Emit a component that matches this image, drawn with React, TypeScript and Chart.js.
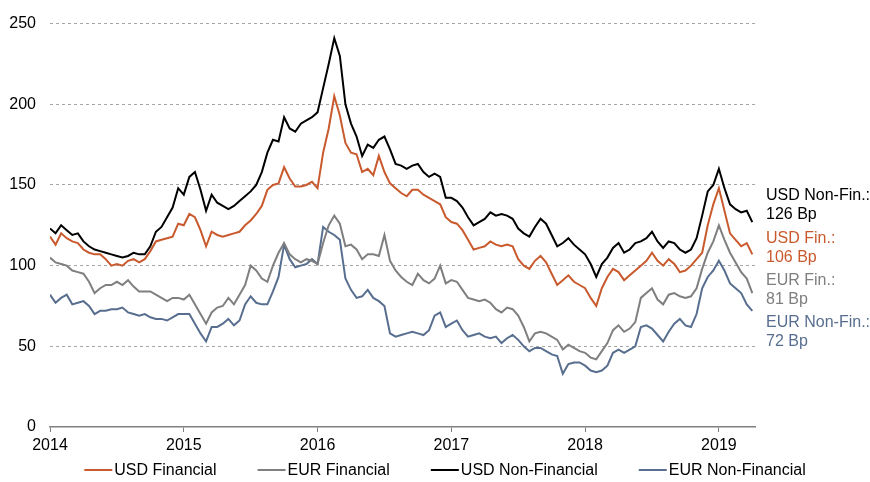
import React, { useEffect, useRef } from 'react';
import { Chart, registerables } from 'chart.js';

Chart.register(...registerables);

// x positions: half-monthly observations starting Jan 2014
const START_YEAR = 2014;
const STEP_YEARS = 1 / 24;
const X_MIN = 2014;
const X_MAX = 2019.27;
const Y_MIN = 0;
const Y_MAX = 250;
const Y_STEP = 50;

const seriesNames = ['USD Financial', 'EUR Financial', 'USD Non-Financial', 'EUR Non-Financial'];
const seriesColors = ['#c95a2e', '#7f7f7f', '#000000', '#586e8f'];

const usdFinancial = [
  118, 113, 120, 117, 115, 114, 110, 108, 107, 107, 104, 100, 101, 100, 103, 104, 102, 104, 109, 115,
  116, 117, 118, 126, 125, 132, 130, 122, 112, 121, 119, 118, 119, 120, 121, 125, 128, 132, 137, 147,
  150, 151, 161, 154, 149, 149, 150, 152, 148, 170, 185, 205, 193, 176, 170, 169, 158, 160, 156, 168,
  158, 151, 148, 145, 143, 147, 147, 144, 142, 140, 138, 130, 127, 126, 122, 116, 110, 111, 112, 115,
  113, 112, 113, 112, 104, 100, 98, 103, 106, 102, 95, 88, 91, 94, 90, 88, 86, 80, 75, 86,
  93, 98, 96, 91, 94, 97, 100, 103, 108, 103, 100, 104, 101, 96, 97, 100, 104, 108, 125, 138,
  148, 134, 120, 116, 112, 114, 107,
];

const eurFinancial = [
  105, 102, 101, 100, 97, 96, 95, 90, 83, 86, 88, 88, 90, 88, 91, 87, 84, 84, 84, 82,
  80, 78, 80, 80, 79, 82, 76, 70, 64, 71, 74, 75, 80, 76, 82, 88, 100, 97, 92, 90,
  100, 108, 114, 107, 104, 102, 104, 103, 101, 114, 125, 131, 126, 112, 113, 110, 104, 107, 107, 106,
  119, 103, 97, 93, 90, 88, 95, 91, 89, 92, 100, 89, 91, 90, 85, 80, 79, 78, 79, 77,
  73, 71, 74, 73, 69, 62, 53, 58, 59, 58, 56, 54, 48, 51, 49, 47, 46, 43, 42, 47,
  52, 60, 63, 59, 61, 65, 80, 83, 86, 79, 76, 82, 83, 81, 80, 81, 86, 98, 108, 115,
  125, 116, 108, 102, 96, 92, 83,
];

const usdNonFinancial = [
  123, 120, 125, 122, 119, 120, 115, 112, 110, 109, 108, 107, 106, 105, 106, 108, 107, 107, 112, 121,
  124, 130, 136, 148, 144, 155, 158, 147, 134, 144, 139, 137, 135, 137, 140, 143, 146, 150, 158, 170,
  178, 177, 192, 185, 183, 188, 190, 192, 195, 210, 225, 241, 230, 200, 188, 180, 168, 175, 173, 178,
  180, 172, 163, 162, 160, 162, 163, 158, 155, 157, 155, 142, 142, 140, 136, 130, 125, 127, 129, 133,
  131, 132, 131, 129, 123, 120, 118, 124, 129, 126, 119, 112, 114, 117, 113, 110, 107, 101, 93, 101,
  105, 111, 114, 108, 110, 114, 115, 117, 121, 115, 111, 115, 114, 110, 108, 110, 117, 131, 146, 150,
  160, 148, 138, 135, 133, 134, 127,
];

const eurNonFinancial = [
  82, 77, 80, 82, 76, 77, 78, 75, 70, 72, 72, 73, 73, 74, 71, 70, 69, 70, 68, 67,
  67, 66, 68, 70, 70, 70, 64, 58, 53, 62, 62, 64, 67, 63, 66, 76, 81, 77, 76, 76,
  84, 93, 113, 104, 99, 100, 101, 104, 101, 124, 121, 119, 116, 92, 85, 80, 81, 85, 80, 78,
  75, 58, 56, 57, 58, 59, 58, 57, 60, 69, 71, 62, 64, 66, 60, 56, 57, 58, 56, 55,
  56, 52, 55, 57, 54, 50, 47, 49, 49, 47, 45, 44, 33, 39, 40, 40, 38, 35, 34, 35,
  38, 46, 48, 46, 48, 50, 62, 63, 61, 57, 53, 59, 64, 67, 63, 62, 70, 86, 93, 97,
  103, 97, 89, 86, 83, 76, 72,
];

const seriesValues = [usdFinancial, eurFinancial, usdNonFinancial, eurNonFinancial];

// end-of-series annotations (right side), in order from top to bottom
const endLabelTitles = ['USD Non-Fin.:', 'USD Fin.:', 'EUR Fin.:', 'EUR Non-Fin.:'];
const endLabelValues = [126, 106, 81, 72];
const endLabelColors = ['#000000', '#c95a2e', '#7f7f7f', '#586e8f'];

const FONT = '"Liberation Sans", Arial, Helvetica, sans-serif';

const endLabelPlugin = {
  id: 'endLabels',
  afterDraw(chart: any) {
    const ctx = chart.ctx;
    ctx.save();
    ctx.font = `16px ${FONT}`;
    ctx.textAlign = 'left';
    ctx.textBaseline = 'middle';
    const x = 766;
    const firstY = 196;
    const blockGap = 42.2;
    const lineGap = 19;
    endLabelTitles.forEach((t, i) => {
      ctx.fillStyle = endLabelColors[i];
      const y = firstY + i * blockGap;
      ctx.fillText(t, x, y);
      ctx.fillText(`${endLabelValues[i]} Bp`, x, y + lineGap);
    });
    ctx.restore();
  },
};

const bottomLegendPlugin = {
  id: 'bottomLegend',
  afterDraw(chart: any) {
    const ctx = chart.ctx;
    ctx.save();
    ctx.font = `16px ${FONT}`;
    ctx.textBaseline = 'middle';
    ctx.textAlign = 'left';
    const lineLen = 28;
    const textGap = 2;
    const itemGap = 41;
    const widths = seriesNames.map((n) => ctx.measureText(n).width);
    const total = widths.reduce((a, w) => a + lineLen + textGap + w, 0) + itemGap * (seriesNames.length - 1);
    let x = 445 - total / 2;
    const y = 470;
    seriesNames.forEach((n, i) => {
      ctx.strokeStyle = seriesColors[i];
      ctx.lineWidth = 2;
      ctx.beginPath();
      ctx.moveTo(x, y);
      ctx.lineTo(x + lineLen, y);
      ctx.stroke();
      ctx.fillStyle = '#000000';
      ctx.fillText(n, x + lineLen + textGap, y + 1);
      x += lineLen + textGap + widths[i] + itemGap;
    });
    ctx.restore();
  },
};

export default function App() {
  const canvasRef = useRef<HTMLCanvasElement | null>(null);

  useEffect(() => {
    if (!canvasRef.current) return;
    const datasets = seriesNames.map((name, i) => ({
      label: name,
      data: seriesValues[i].map((v, k) => ({ x: START_YEAR + k * STEP_YEARS, y: v })),
      borderColor: seriesColors[i],
      backgroundColor: seriesColors[i],
      borderWidth: 2,
      pointRadius: 0,
      tension: 0,
      fill: false,
    }));

    const chart = new Chart(canvasRef.current, {
      type: 'line',
      data: { datasets },
      options: {
        animation: false,
        responsive: false,
        devicePixelRatio: 1,
        layout: { padding: { left: 0, top: 17, right: 115, bottom: 0 } },
        plugins: {
          legend: { display: false },
          tooltip: { enabled: false },
        },
        scales: {
          x: {
            type: 'linear',
            min: X_MIN,
            max: X_MAX,
            afterFit: (scale: any) => {
              scale.height = 55;
            },
            ticks: {
              stepSize: 1,
              includeBounds: false,
              autoSkip: false,
              maxRotation: 0,
              padding: 4,
              color: '#000000',
              font: { family: FONT, size: 16 },
              callback: (v: any) => String(v),
            },
            grid: {
              display: true,
              drawOnChartArea: false,
              drawTicks: true,
              tickLength: 5,
              color: '#808080',
              lineWidth: 1,
            },
            border: { display: true, color: '#808080', width: 1.5 },
          },
          y: {
            type: 'linear',
            min: Y_MIN,
            max: Y_MAX,
            afterFit: (scale: any) => {
              scale.width = 50;
            },
            ticks: {
              stepSize: Y_STEP,
              padding: 14,
              color: '#000000',
              font: { family: FONT, size: 16 },
              callback: (v: any) => String(v),
            },
            grid: {
              display: true,
              drawTicks: false,
              color: (c: any) => (c.tick && c.tick.value === 0 ? 'rgba(0,0,0,0)' : '#a6a6a6'),
              lineWidth: 1,
            },
            border: { display: false, dash: [3, 3] },
          },
        },
      },
      plugins: [endLabelPlugin, bottomLegendPlugin],
    } as any);

    return () => chart.destroy();
  }, []);

  return (
    <div style={{ position: 'fixed', left: 0, top: 0, width: 870, height: 482, background: '#ffffff' }}>
      <canvas ref={canvasRef} width={870} height={482} style={{ display: 'block', width: 870, height: 482 }} />
    </div>
  );
}
